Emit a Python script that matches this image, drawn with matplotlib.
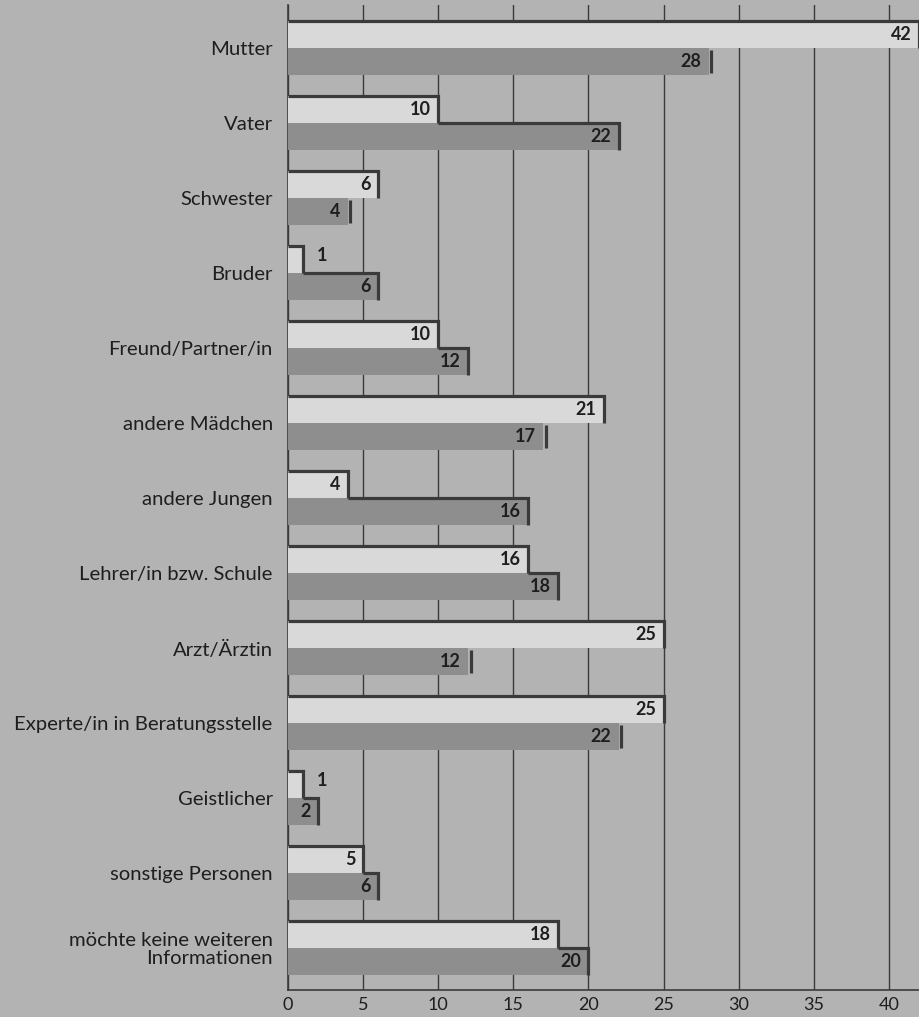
import matplotlib
matplotlib.use("Agg")
import matplotlib.pyplot as plt
import numpy as np

categories = [
    "Mutter",
    "Vater",
    "Schwester",
    "Bruder",
    "Freund/Partner/in",
    "andere Mädchen",
    "andere Jungen",
    "Lehrer/in bzw. Schule",
    "Arzt/Ärztin",
    "Experte/in in Beratungsstelle",
    "Geistlicher",
    "sonstige Personen",
    "möchte keine weiteren\nInformationen",
]
girls = [42, 10, 6, 1, 10, 21, 4, 16, 25, 25, 1, 5, 18]
boys = [28, 22, 4, 6, 12, 17, 16, 18, 12, 22, 2, 6, 20]

BG = "#b3b3b3"
LIGHT = "#d9d9d9"
DARK = "#8e8e8e"
EDGE = "#3a3a3a"
TEXT = "#1e1e1e"
FONT = "Lato"
BAR_H = 0.36

fig = plt.figure(figsize=(9.19, 10.17), dpi=100, facecolor=BG)
ax = fig.add_axes([288 / 919, 1 - 990 / 1017, 1 - 288 / 919, 985 / 1017])
ax.set_facecolor(BG)

y = np.arange(len(categories))
ax.barh(y - BAR_H / 2, girls, height=BAR_H, color=LIGHT, zorder=3)
ax.barh(y + BAR_H / 2, boys, height=BAR_H, color=DARK, zorder=3)

# step outline on top/right edges
for yi, g, b in zip(y, girls, boys):
    top = yi - BAR_H
    bot = yi + BAR_H
    ax.plot([0, g, g], [top, top, yi], color=EDGE, lw=2.3, zorder=4,
            solid_joinstyle="miter", solid_capstyle="butt")
    if b > g:
        ax.plot([g, b, b], [yi, yi, bot], color=EDGE, lw=2.3, zorder=4,
                solid_joinstyle="miter", solid_capstyle="butt")
    else:
        ax.plot([b + 0.15, b + 0.15], [yi + 0.03, bot - 0.03], color=EDGE,
                lw=2.3, zorder=4, solid_capstyle="butt")

    for v, yc in ((g, yi - BAR_H / 2), (b, yi + BAR_H / 2)):
        if v >= 2:
            ax.text(v - 0.5, yc, str(v), ha="right", va="center",
                    fontsize=13, fontweight="bold", color=TEXT,
                    family=FONT, zorder=5)
        else:
            ax.text(v + 0.9, yc - 0.05, str(v), ha="left", va="center",
                    fontsize=13, fontweight="bold", color=TEXT,
                    family=FONT, zorder=5)

ax.set_xlim(0, 42)
ax.set_ylim(12.56, -0.573)
ax.set_xticks(range(0, 45, 5))
ax.set_xticklabels([str(t) for t in range(0, 45, 5)], family=FONT,
                   fontsize=13, color=TEXT)
ax.tick_params(axis="x", length=0, pad=5)
ax.set_yticks(y)
ax.set_yticklabels(categories, family=FONT, fontsize=14.6, color=TEXT,
                   linespacing=1.05)
ax.tick_params(axis="y", length=0, pad=11)

ax.grid(axis="x", color=EDGE, lw=1.0, zorder=1)
ax.set_axisbelow(True)
for s in ("top", "right"):
    ax.spines[s].set_visible(False)
ax.spines["left"].set_color(EDGE)
ax.spines["bottom"].set_color(EDGE)
ax.spines["left"].set_linewidth(1.2)
ax.spines["bottom"].set_linewidth(1.2)

fig.savefig("out.png", dpi=100, facecolor=BG)
